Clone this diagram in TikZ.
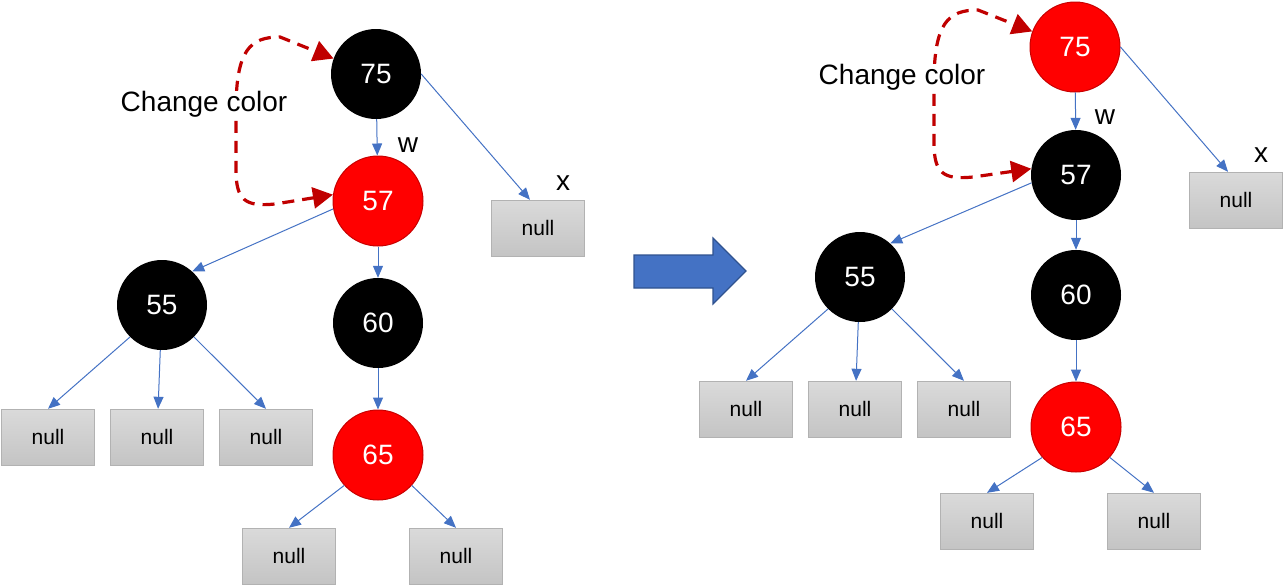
\documentclass[tikz,border=0pt]{standalone}
\usepackage{fontspec}
\setmainfont{Liberation Sans}
\usetikzlibrary{arrows.meta, positioning}
\definecolor{treered}{RGB}{255,0,0}
\definecolor{rededge}{RGB}{200,0,0}
\definecolor{linkblue}{RGB}{68,114,196}
\definecolor{bigedge}{RGB}{47,82,143}
\definecolor{nulltop}{RGB}{218,218,218}
\definecolor{nullbot}{RGB}{196,196,196}
\definecolor{nulledge}{RGB}{178,178,178}
\definecolor{dashred}{RGB}{192,0,0}

\begin{document}
\begin{tikzpicture}[x=1pt, y=-1pt,
  rb/.style={circle, minimum size=90pt, inner sep=0pt, text=white, font=\fontsize{28}{30}\selectfont},
  blk/.style={rb, fill=black},
  rd/.style={rb, fill=treered, draw=rededge, line width=1pt},
  nul/.style={draw=nulledge, top color=nulltop, bottom color=nullbot, minimum width=93pt, minimum height=56pt, inner sep=0pt, font=\fontsize{21}{24}\selectfont},
  lbl/.style={font=\fontsize{28}{30}\selectfont},
  note/.style={fill=white, inner sep=0pt, font=\fontsize{28}{32}\selectfont},
  arr/.style={-{Triangle[length=12pt, width=10pt]}, linkblue, line width=1pt},
  chg/.style={{Triangle[length=20pt, width=21pt]}-{Triangle[length=20pt, width=21pt]}, dashred, line width=3.2pt, dash pattern=on 12pt off 8pt}]
  \useasboundingbox (0,0) rectangle (1287,587);

  % before
  \node[blk] (l75) at (376,74)  {75};
  \node[rd]  (l57) at (378,201) {57};
  \node[blk] (l55) at (162,305) {55};
  \node[blk] (l60) at (378,323) {60};
  \node[rd]  (l65) at (378,455) {65};
  \node[nul] (lx)  at (538,228) {null};
  \node[nul] (ln1) at (48,437)  {null};
  \node[nul] (ln2) at (157,437) {null};
  \node[nul] (ln3) at (266,437) {null};
  \node[nul] (ln4) at (289,556) {null};
  \node[nul] (ln5) at (456,556) {null};
  \node[lbl] (lw)  at (408,145) {w};
  \node[lbl] (lxl) at (563,183) {x};
  \draw[arr] (l75) -- (l57);
  \draw[arr] (l75.east) -- ([xshift=-8pt]lx.north);
  \draw[arr] (l57.190) -- (l55.48);
  \draw[arr] (l57) -- (l60);
  \draw[arr] (l55.225) -- (ln1.north);
  \draw[arr] (l55) -- (ln2);
  \draw[arr] (l55.315) -- (ln3.north);
  \draw[arr] (l60) -- (l65);
  \draw[arr] (l65.222) -- (ln4.north);
  \draw[arr] (l65.318) -- (ln5.north);
  \draw[chg] (l57.172) -- (275,204) .. controls (245,207) and (236,200) .. (236,170)
    -- (236,110) .. controls (236,50) and (250,37) .. (280,37) -- (l75.160);
  \node[note] (lchg) at (204,104) {Change color};

  % arrow between
  \draw[bigedge, fill=linkblue, line width=1.2pt] (634,255) -- (713,255) -- (713,238)
    -- (746,271) -- (713,304) -- (713,288) -- (634,288) -- cycle;

  % after
  \node[rd]  (r75) at (1075,47)  {75};
  \node[blk] (r57) at (1076,175) {57};
  \node[blk] (r55) at (860,277)  {55};
  \node[blk] (r60) at (1076,295) {60};
  \node[rd]  (r65) at (1076,427) {65};
  \node[nul] (rx)  at (1236,200) {null};
  \node[nul] (rn1) at (746,409)  {null};
  \node[nul] (rn2) at (855,409)  {null};
  \node[nul] (rn3) at (964,409)  {null};
  \node[nul] (rn4) at (987,521)  {null};
  \node[nul] (rn5) at (1154,521) {null};
  \node[lbl] (rw)  at (1105,117) {w};
  \node[lbl] (rxl) at (1261,155) {x};
  \draw[arr] (r75) -- (r57);
  \draw[arr] (r75.east) -- ([xshift=-8pt]rx.north);
  \draw[arr] (r57.190) -- (r55.48);
  \draw[arr] (r57) -- (r60);
  \draw[arr] (r55.225) -- (rn1.north);
  \draw[arr] (r55) -- (rn2);
  \draw[arr] (r55.315) -- (rn3.north);
  \draw[arr] (r60) -- (r65);
  \draw[arr] (r65.222) -- (rn4.north);
  \draw[arr] (r65.318) -- (rn5.north);
  \draw[chg] (r57.172) -- (973,177) .. controls (943,180) and (934,173) .. (934,143)
    -- (934,83) .. controls (934,23) and (948,10) .. (978,10) -- (r75.160);
  \node[note] (rchg) at (902,77) {Change color};
\end{tikzpicture}
\end{document}
